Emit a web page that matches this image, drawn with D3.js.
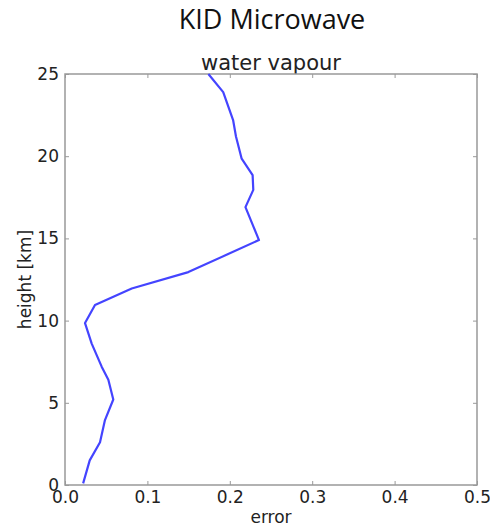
<!DOCTYPE html>
<head>
    <title>KID Microwave</title>
    <script src="https://d3js.org/d3.v7.min.js"></script>
    <style>
        body{
            margin: 0;
            background: #fff;
        }
        svg{
            display: block;
        }
        .tick text{
            font-family: "DejaVu Sans", sans-serif;
            font-size: 17px;
            fill: #222;
        }
        .label{
            font-family: "DejaVu Sans", sans-serif;
            font-size: 17px;
            fill: #222;
        }
    </style>
</head>
<body>
    <svg id="chart" width="490" height="528"></svg>
    <script>
        // values
        var errorValues = [0.022, 0.030, 0.0425, 0.0485, 0.0586, 0.0526, 0.0445, 0.0324, 0.0243,
                           0.0364, 0.081, 0.1497, 0.196, 0.2354, 0.219, 0.2285, 0.2277, 0.2144,
                           0.2075, 0.204, 0.192, 0.174];
        var heightValues = [0.1, 1.5, 2.6, 3.95, 5.2, 6.4, 7.2, 8.6, 9.85,
                            10.95, 11.95, 12.95, 14.0, 14.9, 16.9, 17.95, 18.85, 19.85,
                            21.2, 22.2, 23.9, 25.0];
        var xTicks = [0.0, 0.1, 0.2, 0.3, 0.4, 0.5];
        var yTicks = [0, 5, 10, 15, 20, 25];

        var svg = d3.select("#chart");
        // plot box (note: "top" is taken by window.top, so use other names)
        var plotLeft = 65, plotRight = 477, plotTop = 74, plotBottom = 485;

        var x = d3.scaleLinear().domain([0, 0.5]).range([plotLeft, plotRight]);
        var y = d3.scaleLinear().domain([0, 25]).range([plotBottom, plotTop]);

        // titles
        svg.append("text")
            .attr("x", 272).attr("y", 29)
            .attr("text-anchor", "middle")
            .style("font-family", "Open Sans, sans-serif")
            .style("font-size", "27px")
            .style("fill", "#111")
            .text("KID Microwave");

        svg.append("text")
            .attr("class", "label")
            .attr("x", (plotLeft + plotRight) / 2).attr("y", 70)
            .attr("text-anchor", "middle")
            .style("font-size", "21px")
            .text("water vapour");

        // axes (ticks point inwards like matplotlib)
        var axisColor = "#999";
        function styleAxis(g){
            g.select(".domain").remove();
            g.selectAll(".tick line").attr("stroke", axisColor);
        }

        svg.append("g")
            .attr("transform", "translate(0," + plotBottom + ")")
            .call(d3.axisBottom(x).tickValues(xTicks).tickFormat(d3.format(".1f")).tickSizeInner(-4).tickPadding(6))
            .call(styleAxis);
        svg.append("g")
            .attr("transform", "translate(0," + plotTop + ")")
            .call(d3.axisTop(x).tickValues(xTicks).tickFormat("").tickSizeInner(-4))
            .call(styleAxis);
        svg.append("g")
            .attr("transform", "translate(" + plotLeft + ",0)")
            .call(d3.axisLeft(y).tickValues(yTicks).tickFormat(d3.format("d")).tickSizeInner(-4).tickPadding(6))
            .call(styleAxis);
        svg.append("g")
            .attr("transform", "translate(" + plotRight + ",0)")
            .call(d3.axisRight(y).tickValues(yTicks).tickFormat("").tickSizeInner(-4))
            .call(styleAxis);

        // frame
        svg.append("rect")
            .attr("x", plotLeft).attr("y", plotTop)
            .attr("width", plotRight - plotLeft).attr("height", plotBottom - plotTop)
            .attr("fill", "none")
            .attr("stroke", axisColor)
            .attr("stroke-width", 1.5);

        // axis labels
        svg.append("text")
            .attr("class", "label")
            .attr("x", (plotLeft + plotRight) / 2).attr("y", 523)
            .attr("text-anchor", "middle")
            .text("error");

        svg.append("text")
            .attr("class", "label")
            .attr("transform", "translate(31," + (plotTop + plotBottom) / 2 + ") rotate(-90)")
            .attr("text-anchor", "middle")
            .text("height [km]");

        // the profile line
        var line = d3.line()
            .x((d, i) => x(errorValues[i]))
            .y((d, i) => y(heightValues[i]));

        svg.append("path")
            .datum(heightValues)
            .attr("d", line)
            .attr("fill", "none")
            .attr("stroke", "#4444ff")
            .attr("stroke-width", 2.2)
            .attr("stroke-linejoin", "round");
    </script>
</body>
</html>
